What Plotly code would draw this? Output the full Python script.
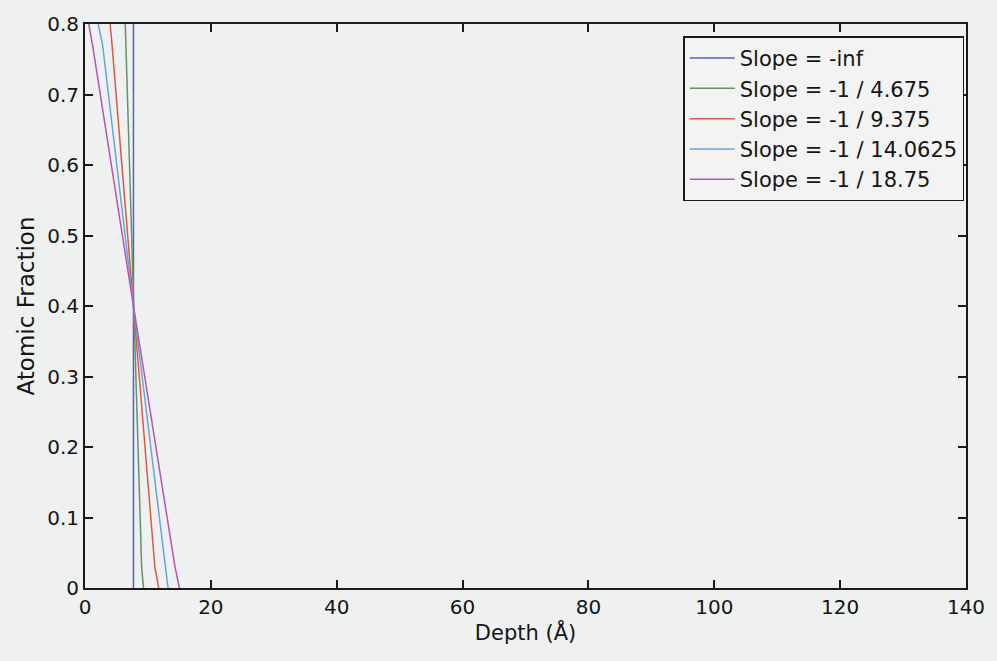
import plotly.graph_objects as go

names = ["Slope = -inf", "Slope = -1 / 4.675", "Slope = -1 / 9.375",
         "Slope = -1 / 14.0625", "Slope = -1 / 18.75"]
colors = ["#4f62c8", "#66926a", "#dc5846", "#6aa4dc", "#b454b4"]

y_pts = [0.8, 0.77, 0.4, 0.03, 0.0]
x_inf = [7.7, 7.7, 7.7, 7.7, 7.7]
x_4675 = [6.4, 6.5, 7.7, 9.0, 9.3]
x_9375 = [4.0, 4.3, 7.7, 11.1, 11.7]
x_140625 = [2.1, 2.8, 7.7, 12.7, 13.2]
x_1875 = [0.6, 1.2, 7.7, 14.3, 15.0]
x_series = [x_inf, x_4675, x_9375, x_140625, x_1875]

x_ticks = [0, 20, 40, 60, 80, 100, 120, 140]
y_ticks = [0, 0.1, 0.2, 0.3, 0.4, 0.5, 0.6, 0.7, 0.8]

FONT = "DejaVu Sans, Arial"

fig = go.Figure()
for name, col, xs in zip(names, colors, x_series):
    fig.add_trace(go.Scatter(x=xs, y=y_pts, mode="lines", name=name,
                             line=dict(color=col, width=1.5)))

bg = "#eef1f0"
axis_common = dict(showline=True, linecolor="#1a1a1a", linewidth=2, mirror="ticks",
                   ticks="inside", ticklen=8, tickwidth=1.5, tickcolor="#1a1a1a",
                   showgrid=False, zeroline=False,
                   tickfont=dict(family=FONT, size=20, color="#151515"))

fig.update_layout(
    width=997, height=661,
    paper_bgcolor=bg, plot_bgcolor=bg,
    margin=dict(l=85, r=24, t=20, b=73),
    showlegend=True,
    legend=dict(x=0.998, y=0.978, xanchor="right", yanchor="top",
                bgcolor="#f2f3f2", bordercolor="#1a1a1a", borderwidth=1.5,
                font=dict(family=FONT, size=21, color="#151515"),
                tracegroupgap=0, itemwidth=45),
    xaxis=dict(range=[0, 140], tickvals=x_ticks, ticktext=[str(t) for t in x_ticks],
               title=dict(text="Depth (Å)", standoff=6,
                          font=dict(family=FONT, size=21, color="#151515")),
               **axis_common),
    yaxis=dict(range=[0, 0.8], tickvals=y_ticks,
               ticktext=["0", "0.1", "0.2", "0.3", "0.4", "0.5", "0.6", "0.7", "0.8"],
               title=dict(text="Atomic Fraction", standoff=6,
                          font=dict(family=FONT, size=23, color="#151515")),
               **axis_common),
)

fig.write_html("out.html")
